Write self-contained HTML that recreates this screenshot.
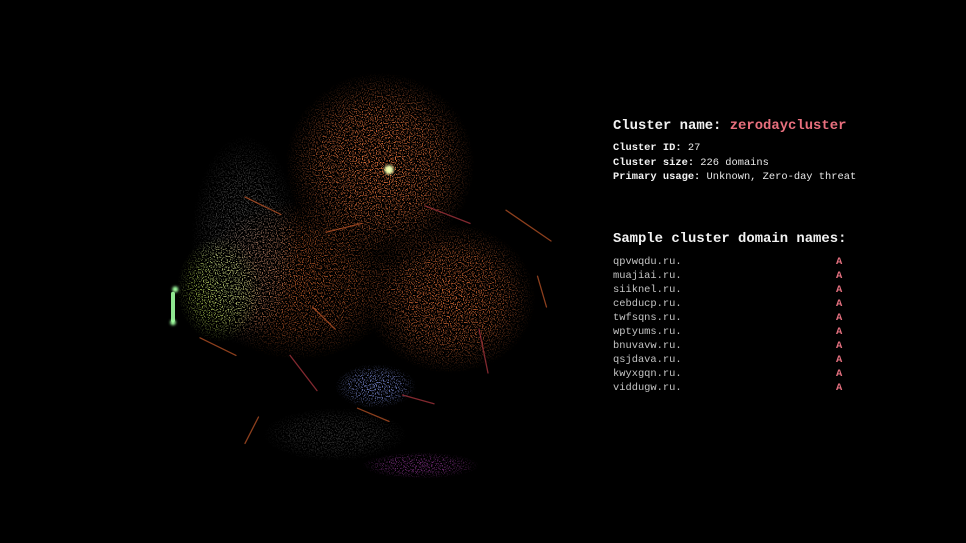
<!DOCTYPE html>
<html><head><meta charset="utf-8">
<style>
html,body{margin:0;padding:0;background:#000;width:966px;height:543px;overflow:hidden}
.t{position:absolute;font-family:"Liberation Mono",monospace;color:#e8e8e8;white-space:pre}
.h{font-size:13.9px;font-weight:bold;color:#f2f2f2}
.s{font-size:10.4px}
.s b{color:#f2f2f2}
.d{font-size:10.4px;color:#c4c4c4}
.a{font-size:10.4px;color:#e4707f;font-weight:bold}
</style></head><body>
<svg id="chart" width="966" height="543" style="position:absolute;left:0;top:0">
<defs id="defs">
<filter id="speck" x="-50%" y="-50%" width="200%" height="200%">
<feTurbulence type="fractalNoise" baseFrequency="0.85" numOctaves="1" seed="3" result="n"/>
<feColorMatrix in="n" type="matrix" values="0 0 0 0 0  0 0 0 0 0  0 0 0 0 0  0 0 0 14 -7.6" result="m"/>
<feComposite in="SourceGraphic" in2="m" operator="in"/>
</filter>
<filter id="glow"><feGaussianBlur stdDeviation="1.2"/></filter>
</defs>
<g id="blobs" filter="url(#speck)"></g>
<g id="streaks"></g>
<g id="spots" filter="url(#glow)"></g>
</svg>
<div class="t h" style="left:613px;top:118px">Cluster name: <span style="color:#e9707e">zerodaycluster</span></div>
<div class="t s" style="left:613px;top:142px"><b>Cluster ID:</b> 27</div>
<div class="t s" style="left:613px;top:157px"><b>Cluster size:</b> 226 domains</div>
<div class="t s" style="left:613px;top:171px"><b>Primary usage:</b> Unknown, Zero-day threat</div>
<div class="t h" style="left:613px;top:231px">Sample cluster domain names:</div>
<div id="list"></div>
<script>
const clusterX=[60,75.5,42,24.4,59,69,30,50];
const clusterY=[22.7,53,49,51,73,91,40,84];
const spreadX=[21,19,22,9.5,9,13,12,16];
const spreadY=[21,17,18,12,5,3,24,6];
const clusterColor=["#e0703a","#d86a35","#d4662f","#a7c44e","#8090e0","#9a3aa0","#bbbbbb","#aaaaaa"];
const clusterAlpha=[1,0.95,0.8,1,0.9,0.8,0.4,0.3];
const streakX1=[30,48,70,88,20,40,55,95,82,45,33,65,14];
const streakY1=[30,38,32,33,62,66,78,48,60,55,80,75,52];
const streakX2=[38,56,80,98,28,46,62,97,84,50,30,72,14];
const streakY2=[34,36,36,40,66,74,81,55,70,60,86,77,58];
const spotX=[62,14.5,14];
const spotY=[23.8,51,58.5];
const spotR=[4.5,3,2.8];
const domains=["qpvwqdu.ru.","muajiai.ru.","siiknel.ru.","cebducp.ru.","twfsqns.ru.","wptyums.ru.","bnuvavw.ru.","qsjdava.ru.","kwyxgqn.ru.","viddugw.ru."];
const recType=["A","A","A","A","A","A","A","A","A","A"];
const NS="http://www.w3.org/2000/svg";
const sx=v=>110+v*4.5, sy=v=>65+v*4.4;
const defs=document.getElementById('defs');
const blobs=document.getElementById('blobs');
clusterX.forEach((x,i)=>{
  const g=document.createElementNS(NS,'radialGradient');
  g.setAttribute('id','g'+i);
  g.innerHTML='<stop offset="0" stop-color="'+clusterColor[i]+'" stop-opacity="1"/><stop offset="0.6" stop-color="'+clusterColor[i]+'" stop-opacity="0.7"/><stop offset="1" stop-color="'+clusterColor[i]+'" stop-opacity="0"/>';
  defs.appendChild(g);
  const e=document.createElementNS(NS,'ellipse');
  
  
  e.setAttribute('cx',sx(x));e.setAttribute('cy',sy(clusterY[i]));
  e.setAttribute('rx',spreadX[i]*4.5);e.setAttribute('ry',spreadY[i]*4.4);
  e.setAttribute('fill','url(#g'+i+')');e.setAttribute('opacity',clusterAlpha[i]);
  blobs.appendChild(e);
});
const st=document.getElementById('streaks');
streakX1.forEach((x,i)=>{
  const l=document.createElementNS(NS,'line');
  
  
  l.setAttribute('x1',sx(x));l.setAttribute('y1',sy(streakY1[i]));
  l.setAttribute('x2',sx(streakX2[i]));l.setAttribute('y2',sy(streakY2[i]));
  const green=i==streakX1.length-1;
  l.setAttribute('stroke',green?'#9effa0':(i%3==2?'#b83a44':'#c85a2a'));
  l.setAttribute('stroke-width',green?'4':'1.3');
  l.setAttribute('stroke-linecap','round');
  l.setAttribute('opacity',green?'0.9':'0.7');
  st.appendChild(l);
});
const sp=document.getElementById('spots');
spotX.forEach((x,i)=>{
  const c=document.createElementNS(NS,'circle');
  
  
  c.setAttribute('cx',sx(x));c.setAttribute('cy',sy(spotY[i]));c.setAttribute('r',spotR[i]);
  c.setAttribute('fill',i==0?'#f0ffb0':'#a0ffa0');
  sp.appendChild(c);
});
const list=document.getElementById('list');
domains.forEach((d,i)=>{
  const a=document.createElement('div');
  a.className='t d';a.style.left='613px';a.style.top=(256+i*14)+'px';a.textContent=d;
  
  
  list.appendChild(a);
  const b=document.createElement('div');
  b.className='t a';b.style.left='836px';b.style.top=(256+i*14)+'px';b.textContent=recType[i];
  
  
  list.appendChild(b);
});
</script>
</body></html>
